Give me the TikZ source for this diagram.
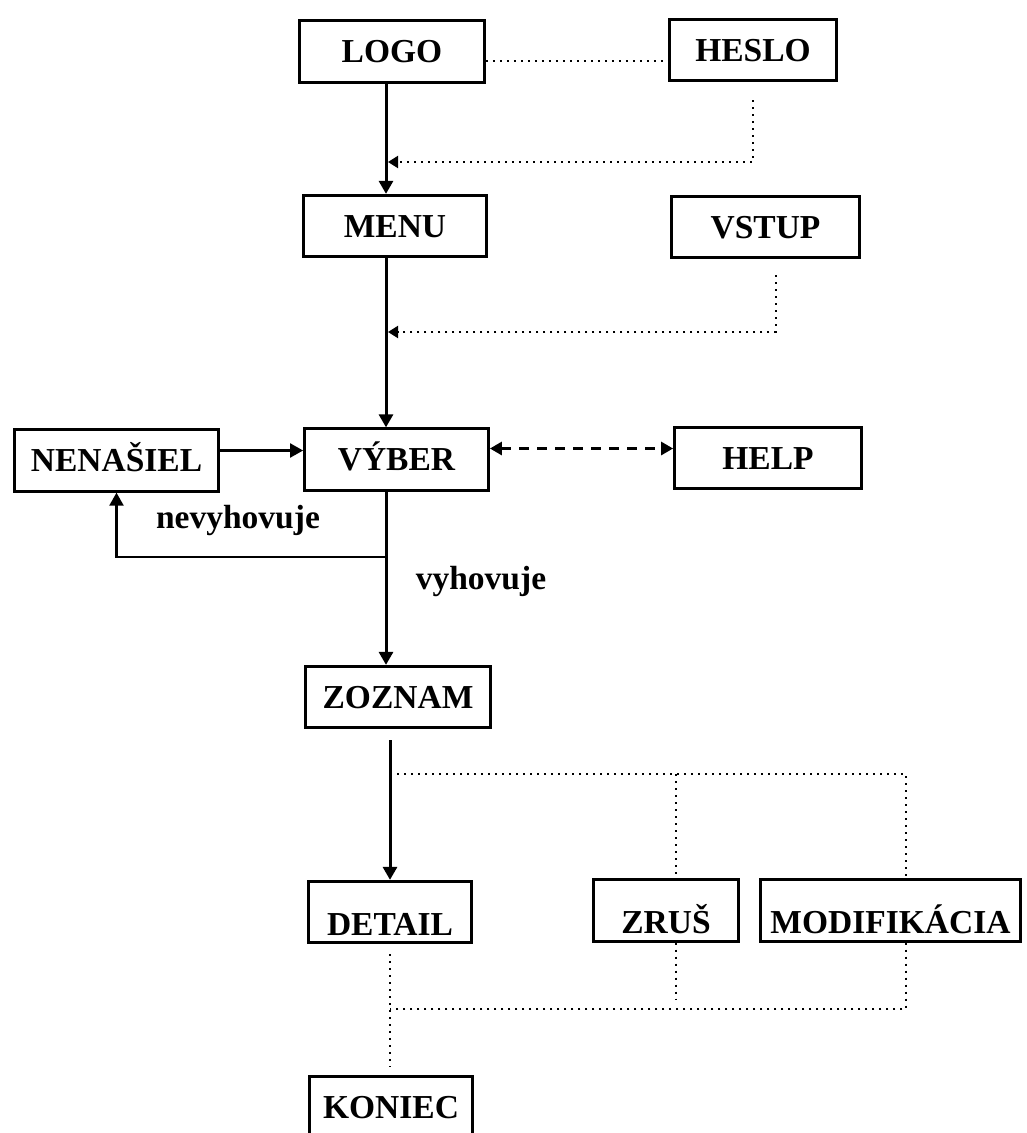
\documentclass[tikz,border=0pt]{standalone}
\usepackage{fontspec}
\setmainfont{Liberation Serif}
\usetikzlibrary{arrows.meta, positioning}

\begin{document}
\begin{tikzpicture}[x=1pt, y=-1pt,
		screen/.style={draw, line width=2.8pt, minimum height=61.5pt, inner sep=0pt, font=\bfseries\fontsize{33.5}{34}\selectfont, text height=22pt, text depth=0pt},
		lowtext/.style={text height=46pt},
		note/.style={inner sep=0pt, font=\bfseries\fontsize{33.5}{34}\selectfont},
		flow/.style={line width=3pt, -{Triangle[length=13pt, width=14pt]}},
		link/.style={line width=2pt, dash pattern=on 2pt off 5pt},
		helpline/.style={line width=2.8pt, dash pattern=on 10pt off 8pt, {Triangle[length=12pt, width=13pt]}-{Triangle[length=12pt, width=13pt]}}
	]
	\useasboundingbox (0,0) rectangle (1026,1133);
	% screens
	\node[screen, minimum width=185pt] (logo) at (392,51.5) {LOGO};
	\node[screen, minimum width=167pt] (heslo) at (753,50) {HESLO};
	\node[screen, minimum width=183pt] (menu) at (395,226) {MENU};
	\node[screen, minimum width=188pt] (vstup) at (765.5,227) {VSTUP};
	\node[screen, minimum width=204pt] (nenasiel) at (116.5,460.5) {NENAŠIEL};
	\node[screen, minimum width=184pt] (vyber) at (396.5,459.5) {VÝBER};
	\node[screen, minimum width=187pt] (help) at (768,458) {HELP};
	\node[screen, minimum width=185pt] (zoznam) at (398,697) {ZOZNAM};
	\node[screen, lowtext, minimum width=163pt] (detail) at (390,912) {DETAIL};
	\node[screen, lowtext, minimum width=145pt] (zrus) at (666,910.5) {ZRUŠ};
	\node[screen, lowtext, minimum width=260pt] (modif) at (890.5,910.5) {MODIFIKÁCIA};
	\node[screen, minimum width=163pt] (koniec) at (391,1107) {KONIEC};
	% labels
	\node[note] (nevyhovuje) at (238,520) {nevyhovuje};
	\node[note] (vyhovuje) at (481,581) {vyhovuje};
	% junctions
	\coordinate (spine) at (386,0);
	\coordinate (jheslo) at (388,162);
	\coordinate (jvstup) at (388,332);
	\coordinate (jloop) at (386,557);
	\coordinate (jtop) at (397,774);
	\coordinate (jbot) at (390,1009);
	\coordinate (zrusx) at ([xshift=10pt]zrus.north);
	\coordinate (modx) at ([xshift=15.5pt]modif.north);
	% main flow
	\draw[flow] (logo.south -| spine) -- (menu.north -| spine);
	\draw[flow] (menu.south -| spine) -- (vyber.north -| spine);
	\draw[flow] (vyber.south -| spine) -- (zoznam.north -| spine);
	\draw[flow, shorten <=11pt] (zoznam.south -| detail.north) -- (detail.north);
	\draw[flow, line width=2.2pt] ([yshift=10pt]nenasiel.east) -- ([yshift=10pt]nenasiel.east -| vyber.west);
	\draw[flow, line width=2.2pt] (jloop) -| (nenasiel.south);
	\draw[helpline] ([yshift=11pt]vyber.east) -- ([yshift=11pt]vyber.east -| help.west);
	% dotted links
	\draw[link] (logo.-6) -- (logo.-6 -| heslo.west);
	\draw[link, shorten <=18pt, -{Triangle[length=10pt, width=12pt]}] (heslo.south) |- (jheslo);
	\draw[link, shorten <=16pt, -{Triangle[length=10pt, width=12pt]}] ([xshift=10pt]vstup.south) |- (jvstup);
	\draw[link] (jtop) -| (modx);
	\draw[link] (jtop -| zrusx) -- (zrusx);
	\draw[link, shorten <=10pt, shorten >=8pt] (detail.south) -- (detail.south |- koniec.north);
	\draw[link] ([xshift=15.5pt]modif.south) |- (jbot);
	\draw[link, shorten >=10pt] ([xshift=10pt]zrus.south) -- ([xshift=10pt]zrus.south |- jbot);
\end{tikzpicture}
\end{document}
